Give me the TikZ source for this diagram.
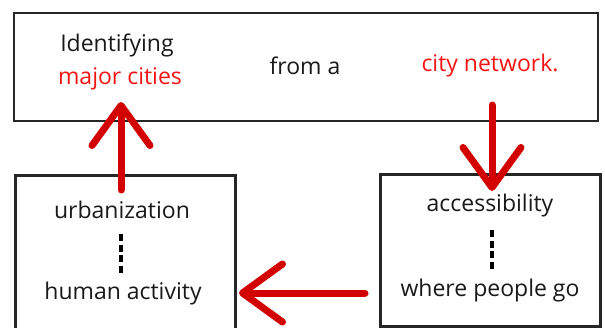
\documentclass[tikz,border=0pt]{standalone}
\usepackage{fontspec}
\setmainfont{Open Sans}
\usepackage{xcolor}
\usetikzlibrary{positioning,arrows.meta}

\definecolor{arrowred}{RGB}{210,0,0}
\definecolor{textred}{RGB}{245,20,20}

\tikzset{
  box/.style={draw=black!85,line width=2.5pt,rectangle,inner sep=0pt},
  word/.style={font=\fontsize{23}{26}\selectfont,text=black!90},
  redword/.style={word,text=textred},
  redarrow/.style={draw=arrowred,line width=7pt,line cap=round,
    -{Straight Barb[length=40pt,width=58pt,line cap=round,line join=round]}},
  dots/.style={line width=4pt,dash pattern=on 7pt off 3.5pt},
}

\begin{document}
\begin{tikzpicture}[x=1pt,y=-1pt]
    \clip (0,0) rectangle (605,327);
    \useasboundingbox (0,0) rectangle (605,327);

    % top box
    \node[box,minimum width=584pt,minimum height=108pt] (topbox) at (306,67) {};
    \node[word] (ident) at (117,45) {Identifying};
    \node[redword] (major) at (120,79) {major cities};
    \node[word] (froma) at (305,66) {from a};
    \node[redword] (citynet) at (490,66) {city network.};

    % left box
    \node[box,minimum width=220pt,minimum height=170pt,anchor=north west] (leftbox) at (14,174) {};
    \node[word] (urban) at (122,210) {urbanization};
    \node[word] (human) at (123,294) {human activity};
    \draw[dots] (121,234) -- (121,273);

    % right box
    \node[box,minimum width=220pt,minimum height=152pt,anchor=north west] (rightbox) at (379,173) {};
    \node[word] (access) at (490,206) {accessibility};
    \node[word] (where) at (490,291) {where people go};
    \draw[dots] (492,230) -- (492,269);

    % arrows
    \coordinate (upfrom) at (121,190);
    \coordinate (upto) at (121,102);
    \coordinate (downfrom) at (492,105);
    \coordinate (downto) at (492,191);
    \coordinate (leftfrom) at (365,293);
    \coordinate (leftto) at (239,293);
    \draw[redarrow] (upfrom) -- (upto);
    \draw[redarrow] (downfrom) -- (downto);
    \draw[redarrow] (leftfrom) -- (leftto);
\end{tikzpicture}
\end{document}
